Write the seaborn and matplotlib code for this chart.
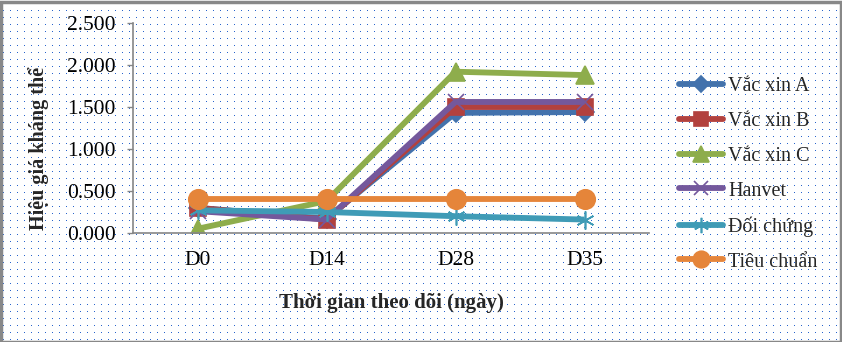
import numpy as np
import pandas as pd
import matplotlib
matplotlib.use("Agg")
import matplotlib.pyplot as plt
from matplotlib.patches import Rectangle
import seaborn as sns

# Antibody titre over the follow-up period
days = ["D0", "D14", "D28", "D35"]
vac_a = [0.30, 0.17, 1.43, 1.44]
vac_b = [0.30, 0.16, 1.50, 1.50]
vac_c = [0.05, 0.38, 1.92, 1.88]
hanvet = [0.26, 0.16, 1.56, 1.56]
doi_chung = [0.27, 0.25, 0.20, 0.16]
tieu_chuan = [0.40, 0.40, 0.40, 0.40]

series_names = ["Vắc xin A", "Vắc xin B", "Vắc xin C", "Hanvet", "Đối chứng", "Tiêu chuẩn"]
series_values = [vac_a, vac_b, vac_c, hanvet, doi_chung, tieu_chuan]
y_ticks = [0.0, 0.5, 1.0, 1.5, 2.0, 2.5]

colors = ["#4372AC", "#B2413E", "#8EAD4C", "#74589C", "#3F9BB6", "#E5853A"]
markers = ["D", "s", "^", "x", (6, 2, 0), "o"]
msizes = [9, 12, 13, 12, 13, 14]

df = pd.DataFrame(
    [(d, v, n) for n, vals in zip(series_names, series_values) for d, v in zip(days, vals)],
    columns=["day", "value", "series"],
)

sns.set_theme(style="white")
SERIF = ["Liberation Serif", "DejaVu Serif"]
plt.rcParams["font.family"] = SERIF

W, H = 842, 342
fig = plt.figure(figsize=(W / 100, H / 100), dpi=100, facecolor="white")

# dotted page background
bg = np.ones((H, W, 3))
dot = np.array([40, 100, 205]) / 255.0
bg[3::7, 3::7] = dot
fig.figimage(bg, xo=0, yo=0, zorder=-10)

ax = fig.add_axes([133 / W, 1 - 233 / H, 516 / W, 210 / H])
ax.patch.set_alpha(0)

sns.lineplot(
    data=df, x="day", y="value", hue="series", style="series",
    hue_order=series_names, style_order=series_names,
    palette=colors, markers=True, dashes=False, linewidth=4.2,
    markersize=10, sort=False, ax=ax, legend=True,
)

# per-series marker shapes, sizes and colours
for line, c, ms, mk in zip(ax.get_lines(), colors, msizes, markers):
    line.set_marker(mk)
    line.set_markersize(ms)
    line.set_markeredgecolor(c)
    line.set_markerfacecolor(c)
    line.set_markeredgewidth(1.2)
    line.set_solid_capstyle("butt")

ax.set_xlim(-0.5, 3.5)
ax.set_ylim(0, 2.5)
ax.set_yticks(y_ticks)
ax.set_yticklabels([f"{v:.3f}" for v in y_ticks])
ax.set_xlabel("")
ax.set_ylabel("")

for s in ["top", "right"]:
    ax.spines[s].set_visible(False)
for s in ["left", "bottom"]:
    ax.spines[s].set_color("#868686")
    ax.spines[s].set_linewidth(1.2)

ax.tick_params(axis="y", which="both", left=True, length=4.5, width=1.0,
               color="#868686", pad=8, labelsize=15.5, labelcolor="black")
ax.tick_params(axis="x", which="both", bottom=False, length=0, pad=13,
               labelsize=15.5, labelcolor="black")
for lab in ax.get_xticklabels() + ax.get_yticklabels():
    lab.set_family(SERIF)

# legend on the right, without a frame
handles, labels = ax.get_legend_handles_labels()
for h, c, ms, mk in zip(handles, colors, msizes, markers):
    h.set_color(c)
    h.set_marker(mk)
    h.set_linewidth(4.2)
    h.set_markersize(ms * 0.85)
    h.set_markeredgecolor(c)
    h.set_markerfacecolor(c)
    h.set_markeredgewidth(1.2)
ax.legend(handles, labels, loc="upper left", bbox_to_anchor=(679 / W, 1 - 77 / H),
          bbox_transform=fig.transFigure, frameon=False,
          prop={"family": SERIF, "size": 14.5},
          handlelength=2.2, handletextpad=0.25, labelspacing=0.78, borderaxespad=0,
          borderpad=0)

fig.text(39 / W, 1 - 148.5 / H, "Hiệu giá kháng thể", rotation=90,
         ha="center", va="center", fontsize=14.5, fontweight="bold", family=SERIF)
fig.text(391 / W, 1 - 303 / H, "Thời gian theo dõi (ngày)",
         ha="center", va="center", fontsize=15, fontweight="bold", family=SERIF)

# outer border
fig.add_artist(Rectangle((0.5 / W, 0.5 / H), 1 - 2 / W, 1 - 2 / H, transform=fig.transFigure,
                         fill=False, edgecolor="#888888", linewidth=2.5))

fig.savefig("out.png", dpi=100, facecolor="white")
